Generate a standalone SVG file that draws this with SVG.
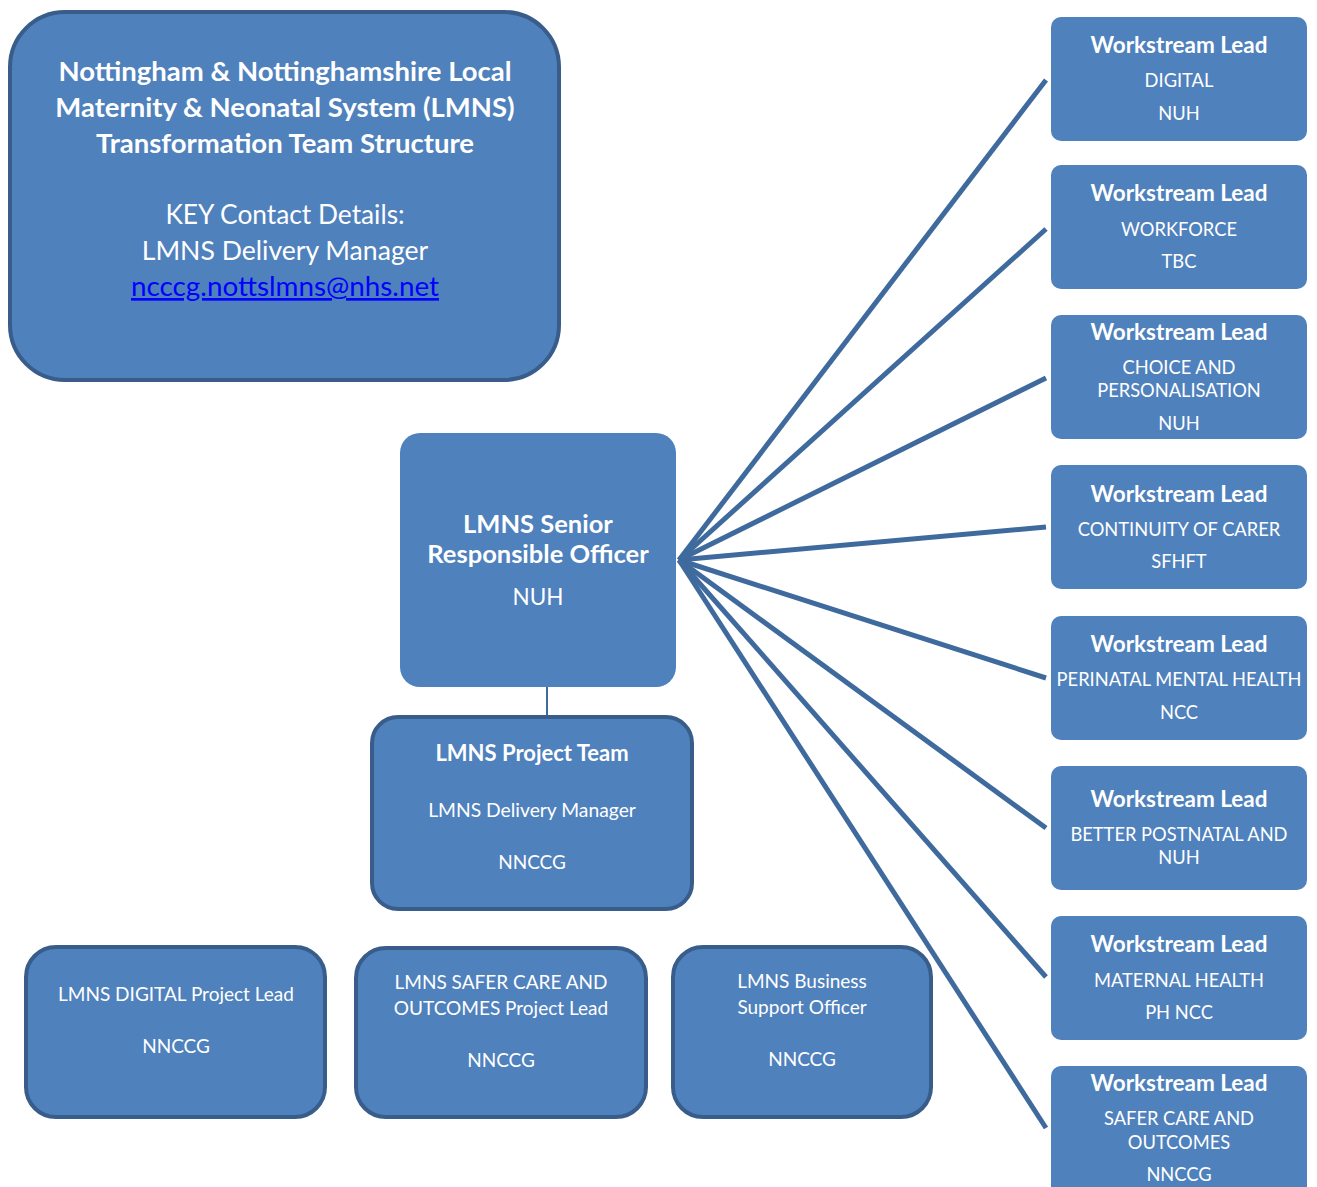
<svg xmlns="http://www.w3.org/2000/svg" width="1317" height="1187" viewBox="0 0 1317 1187">
<style>
text{font-family:Lato,"Open Sans","Liberation Sans",sans-serif;fill:#fff;text-anchor:middle}
.box{fill:#4F81BD}
.bord{fill:#4F81BD;stroke:#385D8A;stroke-width:4}
.b{font-weight:bold}
.conn{stroke:#3F6A9D;stroke-width:5;fill:none}
.ws1{font-size:22.5px;font-weight:bold}
.ws2{font-size:18.3px}
.bt{font-size:19px}
</style>
<rect width="1317" height="1187" fill="#fff"/>
<g id="connectors">
<line class="conn" x1="679" y1="560" x2="1046" y2="80"/>
<line class="conn" x1="679" y1="560" x2="1046" y2="229"/>
<line class="conn" x1="679" y1="560" x2="1046" y2="378"/>
<line class="conn" x1="679" y1="560" x2="1046" y2="527"/>
<line class="conn" x1="679" y1="560" x2="1046" y2="678"/>
<line class="conn" x1="679" y1="560" x2="1046" y2="828"/>
<line class="conn" x1="679" y1="560" x2="1046" y2="977"/>
<line class="conn" x1="679" y1="560" x2="1046" y2="1128"/>
<line x1="547" y1="635" x2="547" y2="717" stroke="#3F6A9D" stroke-width="2"/>
</g>
<g id="title">
<rect class="bord" x="10" y="12" width="549" height="368" rx="55"/>
<text class="b" x="285" y="81" font-size="27.5">Nottingham &amp; Nottinghamshire Local</text>
<text class="b" x="285" y="117" font-size="27.5">Maternity &amp; Neonatal System (LMNS)</text>
<text class="b" x="285" y="153" font-size="27.5">Transformation Team Structure</text>
<text x="285" y="224" font-size="26.3">KEY Contact Details:</text>
<text x="285" y="260" font-size="26.6">LMNS Delivery Manager</text>
<text x="285" y="296" font-size="26.6" textLength="308" lengthAdjust="spacingAndGlyphs" style="fill:#0000FF" text-decoration="underline">ncccg.nottslmns@nhs.net</text>
</g>
<g id="sro">
<rect class="box" x="400" y="433" width="276" height="254" rx="20"/>
<text class="b" x="538" y="533" font-size="25.5">LMNS Senior</text>
<text class="b" x="538" y="563" font-size="25.5">Responsible Officer</text>
<text x="538" y="605" font-size="22.5">NUH</text>
</g>
<g id="project-team">
<rect class="bord" x="372" y="717" width="320" height="192" rx="26"/>
<text class="b" x="532" y="761" font-size="22">LMNS Project Team</text>
<text x="532" y="817" font-size="19.3">LMNS Delivery Manager</text>
<text x="532" y="869" font-size="19">NNCCG</text>
</g>
<g id="digital-project-lead">
<rect class="bord" x="26" y="947" width="299" height="170" rx="30"/>
<text class="bt" x="176" y="1001">LMNS DIGITAL Project Lead</text>
<text class="bt" x="176" y="1053">NNCCG</text>
</g>
<g id="safer-care-project-lead">
<rect class="bord" x="356" y="948" width="290" height="169" rx="30"/>
<text class="bt" x="501" y="989">LMNS SAFER CARE AND</text>
<text class="bt" x="501" y="1015">OUTCOMES Project Lead</text>
<text class="bt" x="501" y="1067">NNCCG</text>
</g>
<g id="business-support">
<rect class="bord" x="673" y="947" width="258" height="170" rx="30"/>
<text class="bt" x="802" y="988">LMNS Business</text>
<text class="bt" x="802" y="1014">Support Officer</text>
<text class="bt" x="802" y="1066">NNCCG</text>
</g>
<g id="ws-digital">
<rect class="box" x="1051" y="17" width="256" height="124" rx="10"/>
<text class="ws1" x="1179" y="53">Workstream Lead</text>
<text class="ws2" x="1179" y="87">DIGITAL</text>
<text class="ws2" x="1179" y="120">NUH</text>
</g>
<g id="ws-workforce">
<rect class="box" x="1051" y="165" width="256" height="124" rx="10"/>
<text class="ws1" x="1179" y="201">Workstream Lead</text>
<text class="ws2" x="1179" y="236">WORKFORCE</text>
<text class="ws2" x="1179" y="268">TBC</text>
</g>
<g id="ws-choice">
<rect class="box" x="1051" y="315" width="256" height="124" rx="10"/>
<text class="ws1" x="1179" y="340">Workstream Lead</text>
<text class="ws2" x="1179" y="374">CHOICE AND</text>
<text class="ws2" x="1179" y="397">PERSONALISATION</text>
<text class="ws2" x="1179" y="430">NUH</text>
</g>
<g id="ws-continuity">
<rect class="box" x="1051" y="465" width="256" height="124" rx="10"/>
<text class="ws1" x="1179" y="502">Workstream Lead</text>
<text class="ws2" x="1179" y="536">CONTINUITY OF CARER</text>
<text class="ws2" x="1179" y="568">SFHFT</text>
</g>
<g id="ws-perinatal">
<rect class="box" x="1051" y="616" width="256" height="124" rx="10"/>
<text class="ws1" x="1179" y="652">Workstream Lead</text>
<text class="ws2" x="1179" y="686">PERINATAL MENTAL HEALTH</text>
<text class="ws2" x="1179" y="719">NCC</text>
</g>
<g id="ws-postnatal">
<rect class="box" x="1051" y="766" width="256" height="124" rx="10"/>
<text class="ws1" x="1179" y="807">Workstream Lead</text>
<text class="ws2" x="1179" y="841">BETTER POSTNATAL AND</text>
<text class="ws2" x="1179" y="864">NUH</text>
</g>
<g id="ws-maternal">
<rect class="box" x="1051" y="916" width="256" height="124" rx="10"/>
<text class="ws1" x="1179" y="952">Workstream Lead</text>
<text class="ws2" x="1179" y="987">MATERNAL HEALTH</text>
<text class="ws2" x="1179" y="1019">PH NCC</text>
</g>
<g id="ws-safer-care">
<rect class="box" x="1051" y="1066" width="256" height="134" rx="10"/>
<text class="ws1" x="1179" y="1091">Workstream Lead</text>
<text class="ws2" x="1179" y="1125">SAFER CARE AND</text>
<text class="ws2" x="1179" y="1149">OUTCOMES</text>
<text class="ws2" x="1179" y="1181">NNCCG</text>
</g>
</svg>
